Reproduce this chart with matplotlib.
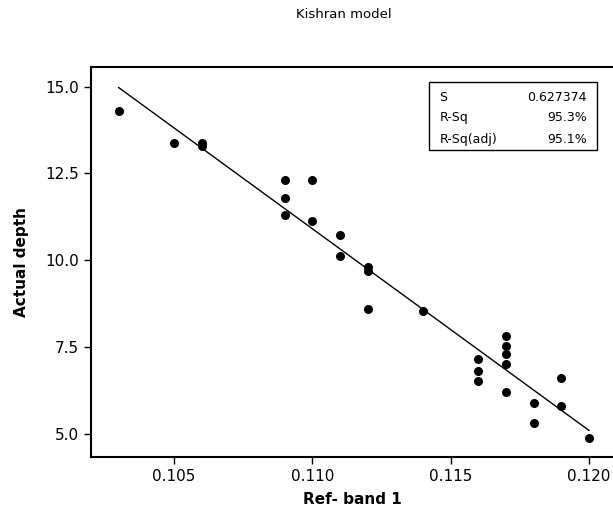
import numpy as np
import matplotlib
matplotlib.use("Agg")
import matplotlib.pyplot as plt

# values
ref_band = [0.103, 0.105, 0.106, 0.106, 0.109, 0.109, 0.109, 0.110, 0.110,
            0.111, 0.111, 0.112, 0.112, 0.112, 0.114, 0.116, 0.116, 0.116,
            0.117, 0.117, 0.117, 0.117, 0.117, 0.118, 0.118, 0.119, 0.119, 0.120]
depth = [14.3, 13.38, 13.38, 13.3, 12.3, 11.8, 11.3, 12.3, 11.12,
         10.72, 10.13, 9.81, 9.68, 8.61, 8.53, 7.15, 6.80, 6.52,
         7.81, 7.52, 7.30, 7.01, 6.22, 5.90, 5.32, 6.60, 5.81, 4.89]
stat_names = ["S", "R-Sq", "R-Sq(adj)"]
stat_values = ["0.627374", "95.3%", "95.1%"]
x_ticks = [0.105, 0.110, 0.115, 0.120]
y_ticks = [5.0, 7.5, 10.0, 12.5, 15.0]

x = np.array(ref_band)
y = np.array(depth)
coef = np.polyfit(x, y, 1)
fit_x = np.linspace(x.min(), x.max(), 50)
fit_y = np.polyval(coef, fit_x)

fig = plt.figure(figsize=(6.13, 5.17), dpi=100)
ax = fig.add_axes([91 / 613, 1 - 457.3 / 517, 1 - 91 / 613, (457.3 - 66.7) / 517])

ax.plot(fit_x, fit_y, color="black", linewidth=1)
ax.scatter(x, y, s=30, color="black", zorder=3)

ax.set_xlim(0.1020, 0.12087)
ax.set_ylim(4.33, 15.57)
ax.set_xticks(x_ticks)
ax.set_xticklabels(["%.3f" % t for t in x_ticks])
ax.set_yticks(y_ticks)
ax.set_yticklabels(["%.1f" % t for t in y_ticks])
ax.tick_params(direction="out", length=5, width=1, labelsize=11, colors="black")
ax.spines["right"].set_visible(False)
for side in ["left", "bottom", "top"]:
    ax.spines[side].set_linewidth(1.5)

ax.set_xlabel("Ref- band 1", fontsize=11, fontweight="bold", labelpad=6)
ax.set_ylabel("Actual depth", fontsize=11, fontweight="bold", labelpad=12)
fig.text(343.5 / 613, 1 - 15 / 517, "Kishran model", ha="center", va="center", fontsize=9.5)

# stats box
bx0, bx1 = (429.3 - 91) / 522, (597.3 - 91) / 522
by0, by1 = (457.3 - 150) / 390.6, (457.3 - 82.3) / 390.6
ax.add_patch(plt.Rectangle((bx0, by0), bx1 - bx0, by1 - by0, transform=ax.transAxes,
                           fill=False, edgecolor="black", linewidth=1, zorder=4))
rows_y = [97.7, 117.7, 139.3]
for name, val, ry in zip(stat_names, stat_values, rows_y):
    yy = (457.3 - ry) / 390.6
    ax.text((439.3 - 91) / 522, yy, name, transform=ax.transAxes, fontsize=9,
            ha="left", va="center")
    ax.text((586.7 - 91) / 522, yy, val, transform=ax.transAxes, fontsize=9,
            ha="right", va="center")

fig.savefig("out.png", dpi=100)
